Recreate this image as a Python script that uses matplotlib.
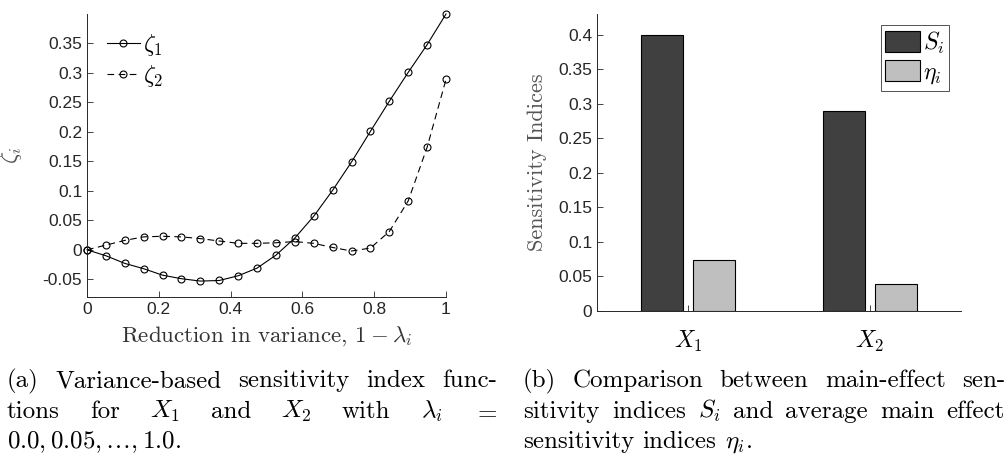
"""Sensitivity index functions and main-effect comparison (two panels with captions)."""

import matplotlib
matplotlib.use("Agg")
import matplotlib.pyplot as plt
from matplotlib.patches import Patch

plt.rcParams["mathtext.fontset"] = "cm"
plt.rcParams["font.family"] = ["Liberation Sans", "DejaVu Sans"]
plt.rcParams["axes.unicode_minus"] = False

# Reduction in variance, 1 - lambda_i
reduction = [0.0, 0.0526, 0.1053, 0.1579, 0.2105, 0.2632, 0.3158, 0.3684, 0.4211, 0.4737,
             0.5263, 0.5789, 0.6316, 0.6842, 0.7368, 0.7895, 0.8421, 0.8947, 0.9474, 1.0]
zeta_1 = [0.0, -0.010, -0.023, -0.032, -0.043, -0.049, -0.053, -0.052, -0.044, -0.031,
          -0.009, 0.020, 0.057, 0.101, 0.149, 0.201, 0.252, 0.301, 0.348, 0.400]
zeta_2 = [0.0, 0.008, 0.016, 0.022, 0.023, 0.022, 0.019, 0.015, 0.011, 0.011,
          0.012, 0.014, 0.011, 0.004, -0.002, 0.003, 0.031, 0.083, 0.174, 0.289]

factors = ["$X_1$", "$X_2$"]
main_effect = [0.400, 0.290]      # S_i
avg_main_effect = [0.074, 0.039]  # eta_i

DARK = "#404040"
LIGHT = "#bfbfbf"
AXIS_COLOR = "#262626"
CM = "cmr10"
TICK_SIZE = 12.5
CAPTION_SIZE = 18

# each caption line is a list of words; all lines but the last are justified
CAPTION_A = [
    ["(a)", "Variance-based", "sensitivity", "index", "func-"],
    ["tions", "for", "$X_1$", "and", "$X_2$", "with", r"$\lambda_i$", "$=$"],
    [r"$0.0, 0.05, \ldots, 1.0$."],
]
CAPTION_B = [
    ["(b)", "Comparison", "between", "main-effect", "sen-"],
    ["sitivity", "indices", "$S_i$", "and", "average", "main", "effect"],
    ["sensitivity", "indices", r"$\eta_i$."],
]


def style_axes(ax):
    for side in ("top", "right"):
        ax.spines[side].set_visible(False)
    for side in ("left", "bottom"):
        ax.spines[side].set_color(AXIS_COLOR)
        ax.spines[side].set_linewidth(0.7)
    ax.tick_params(direction="in", length=4, width=0.6, color=AXIS_COLOR,
                   labelcolor=AXIS_COLOR, labelsize=TICK_SIZE)


def caption_line(fig, words, x0, x1, y, size, justify=True):
    """Place words on one caption line, spreading them from x0 to x1 (pixels)."""
    renderer = fig.canvas.get_renderer()
    W, H = fig.bbox.width, fig.bbox.height
    texts = [fig.text(0, 1 - y / H, w, fontsize=size, family=CM, va="baseline",
                      ha="left") for w in words]
    widths = [t.get_window_extent(renderer).width for t in texts]
    if justify and len(words) > 1:
        gap = (x1 - x0 - sum(widths)) / (len(words) - 1)
    else:
        gap = size * 100 / 72 * 0.33
    x = x0
    for t, w in zip(texts, widths):
        t.set_x(x / W)
        x += w + gap


def draw_caption(fig, lines, x0, x1, baselines, size):
    for i, (words, y) in enumerate(zip(lines, baselines)):
        caption_line(fig, words, x0, x1, y, size, justify=i < len(lines) - 1)


fig = plt.figure(figsize=(10.08, 4.57), dpi=100)

# ── Panel (a): index functions ────────────────────────────────────────────
ax1 = fig.add_axes([87 / 1008, 1 - 297 / 457, 359 / 1008, 283 / 457])
ax1.plot(reduction, zeta_1, "-o", color="black", linewidth=0.8, markersize=5,
         markerfacecolor="none", markeredgewidth=0.8, clip_on=False, label=r"$\zeta_1$")
ax1.plot(reduction, zeta_2, "--o", color="black", linewidth=0.8, markersize=5,
         markerfacecolor="none", markeredgewidth=0.8, clip_on=False, label=r"$\zeta_2$",
         dashes=(6, 4))
ax1.set_xlim(0, 1)
ax1.set_ylim(-0.08, 0.40)
ax1.set_xticks([0, 0.2, 0.4, 0.6, 0.8, 1])
ax1.set_xticklabels(["0", "0.2", "0.4", "0.6", "0.8", "1"])
ax1.set_yticks([-0.05, 0, 0.05, 0.1, 0.15, 0.2, 0.25, 0.3, 0.35])
ax1.set_yticklabels(["-0.05", "0", "0.05", "0.1", "0.15", "0.2", "0.25", "0.3", "0.35"])
style_axes(ax1)
ax1.set_xlabel(r"Reduction in variance, $1-\lambda_i$", family=CM, fontsize=16.5,
               color="#333333", labelpad=5)
ax1.set_ylabel(r"$\zeta_i$", fontsize=17, color="#555555", labelpad=13)
ax1.legend(loc="upper left", bbox_to_anchor=(0.055, 0.935), frameon=False, fontsize=17,
           handlelength=1.4, handletextpad=0.15, labelspacing=0.2, borderpad=0,
           borderaxespad=0)

# ── Panel (b): S_i vs eta_i ───────────────────────────────────────────────
ax2 = fig.add_axes([597 / 1008, 1 - 311 / 457, 364 / 1008, 297 / 457])
pos = [1, 2]
width = 0.23
ax2.bar([p - 0.143 for p in pos], main_effect, width, color=DARK, edgecolor="black",
        linewidth=0.8, label="$S_i$")
ax2.bar([p + 0.143 for p in pos], avg_main_effect, width, color=LIGHT, edgecolor="black",
        linewidth=0.8, label=r"$\eta_i$")
ax2.set_xlim(0.5, 2.5)
ax2.set_ylim(0, 0.43)
ax2.set_xticks(pos)
ax2.set_xticklabels(factors)
ax2.set_yticks([0, 0.05, 0.1, 0.15, 0.2, 0.25, 0.3, 0.35, 0.4])
ax2.set_yticklabels(["0", "0.05", "0.1", "0.15", "0.2", "0.25", "0.3", "0.35", "0.4"])
style_axes(ax2)
for lbl in ax2.get_xticklabels():
    lbl.set_fontsize(17)
    lbl.set_color("black")
ax2.tick_params(axis="x", pad=13)
ax2.set_ylabel("Sensitivity Indices", family=CM, fontsize=16, color="#555555", labelpad=8)
handles = [Patch(facecolor=DARK, edgecolor="black", linewidth=0.8),
           Patch(facecolor=LIGHT, edgecolor="black", linewidth=0.8)]
leg = ax2.legend(handles, ["$S_i$", r"$\eta_i$"], loc="upper right",
                 bbox_to_anchor=(0.968, 0.963), fontsize=17, fancybox=False,
                 handlelength=1.45, handleheight=0.95, handletextpad=0.15,
                 labelspacing=0.2, borderpad=0.2, borderaxespad=0)
leg.get_frame().set_edgecolor(AXIS_COLOR)
leg.get_frame().set_linewidth(0.7)

# ── Captions ─────────────────────────────────────────────────────────────
baselines = [387, 418, 448]
draw_caption(fig, CAPTION_A, 7, 497, baselines, CAPTION_SIZE)
draw_caption(fig, CAPTION_B, 523, 1005, baselines, CAPTION_SIZE)

fig.savefig("out.png", dpi=100)
